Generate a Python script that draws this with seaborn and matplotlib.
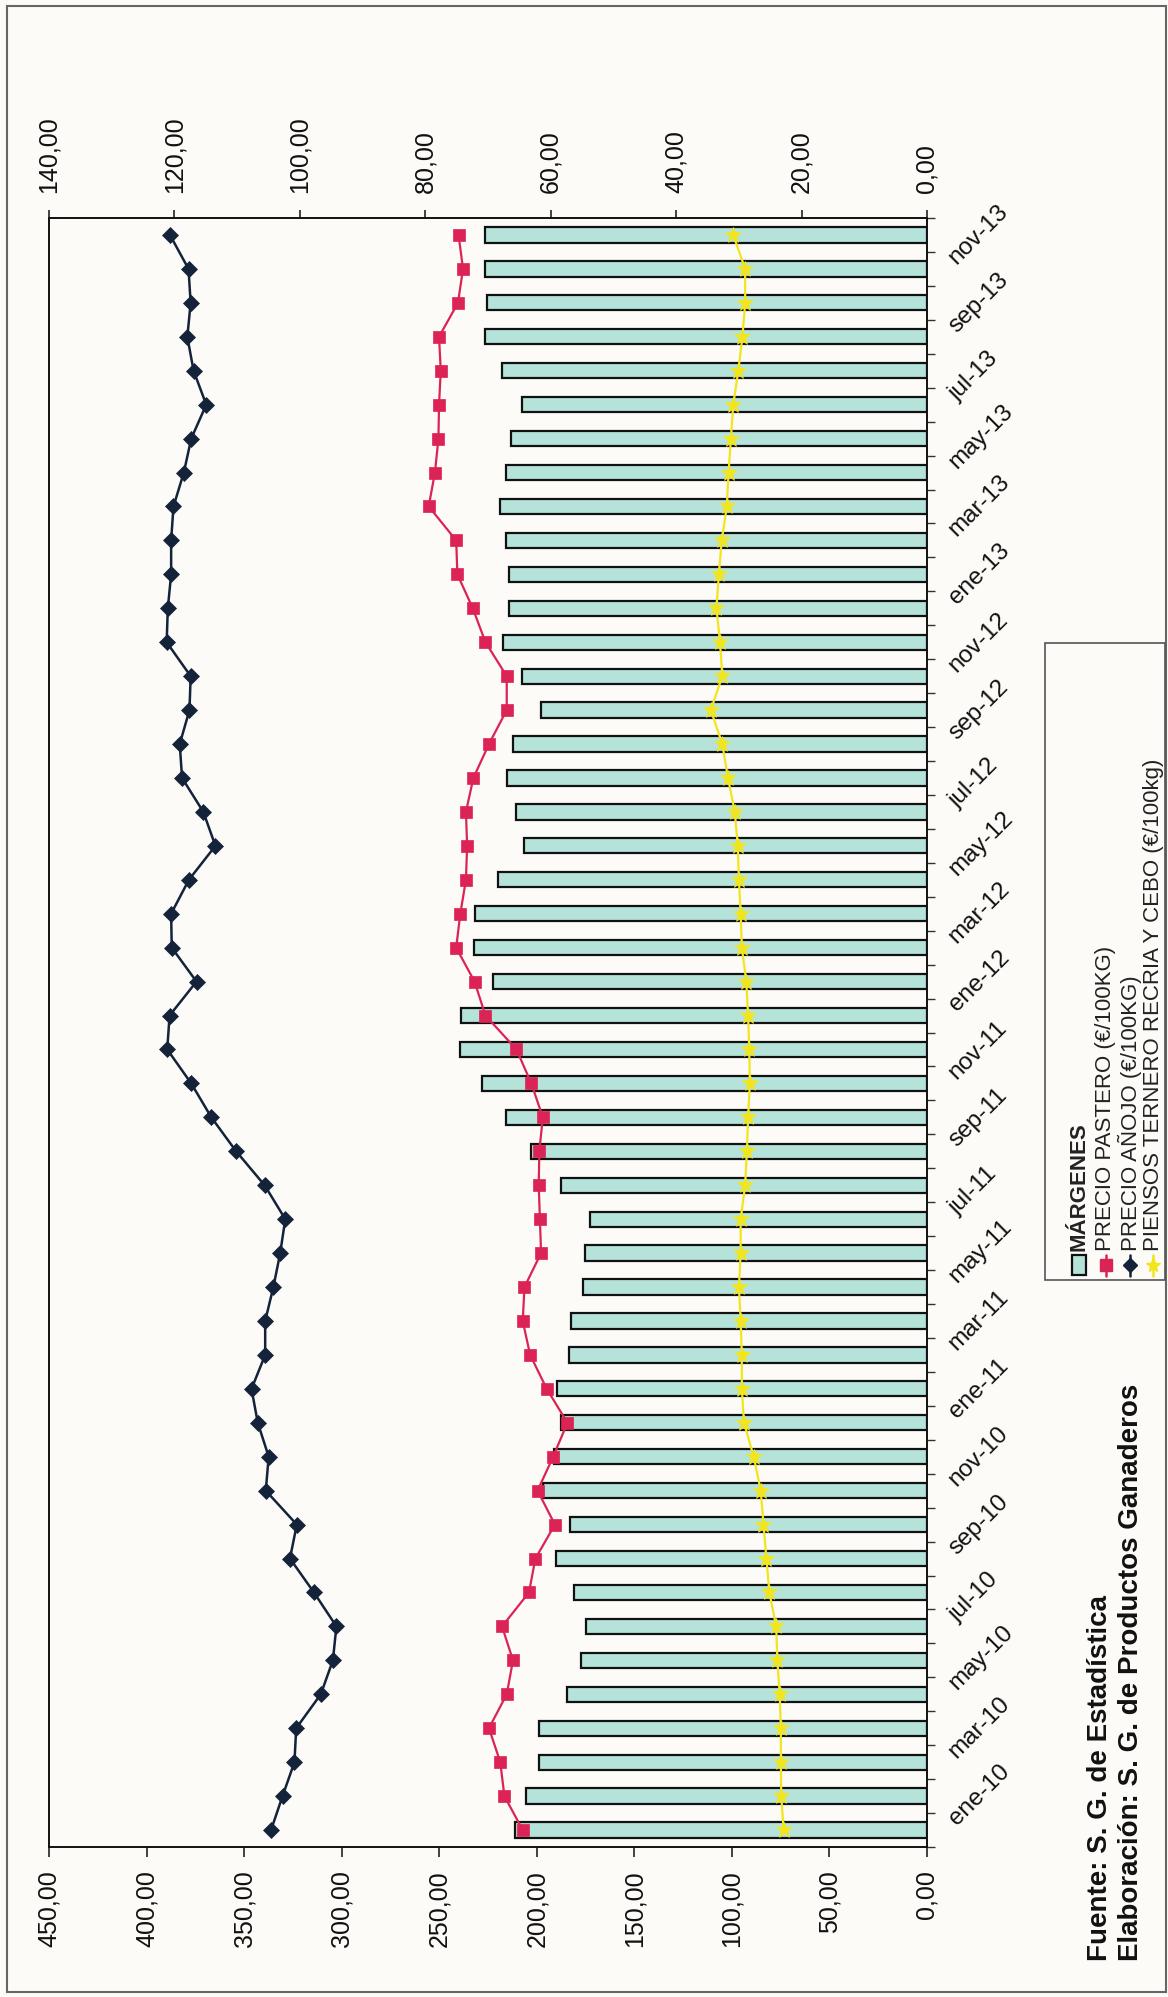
import numpy as np
import pandas as pd
import seaborn as sns
import matplotlib
matplotlib.use("Agg")
import matplotlib.pyplot as plt
from matplotlib.patches import Rectangle
from matplotlib.lines import Line2D
from matplotlib.ticker import FixedLocator

# meses ene-10 .. dic-13 (de abajo a arriba en la figura girada)
month_abbr = ["ene", "feb", "mar", "abr", "may", "jun",
              "jul", "ago", "sep", "oct", "nov", "dic"]
meses = [f"{m}-{y}" for y in ("10", "11", "12", "13") for m in month_abbr]

margen = [65.7, 64.0, 61.9, 61.9, 57.4, 55.1, 54.3, 56.3, 59.2, 57.0, 61.3, 59.4,
          58.4, 59.0, 57.1, 56.8, 54.8, 54.6, 53.7, 58.3, 63.1, 67.2, 70.9, 74.5,
          74.3, 69.2, 72.2, 72.0, 68.4, 64.2, 65.6, 67.0, 66.0, 61.5, 64.5, 67.6,
          66.7, 66.7, 67.2, 68.1, 67.2, 66.3, 64.6, 67.8, 70.4, 70.1, 70.4, 70.4]
pastero = [207.2, 216.6, 218.7, 224.5, 215.4, 212.2, 217.8, 204.0, 200.7, 190.7, 199.6, 191.6,
           184.3, 194.9, 203.4, 207.2, 206.3, 197.8, 198.4, 199.0, 198.7, 196.9, 202.8, 210.4,
           226.3, 231.9, 241.3, 239.2, 236.3, 235.7, 236.3, 232.5, 224.5, 215.4, 215.4, 226.3,
           232.8, 240.7, 241.3, 255.4, 252.2, 250.4, 250.1, 249.2, 250.1, 240.4, 237.8, 240.1]
anojo = [336.2, 330.3, 324.2, 323.3, 310.7, 304.5, 302.7, 314.2, 326.5, 323.0, 338.9, 337.4,
         343.0, 346.2, 339.2, 339.2, 335.0, 331.5, 328.9, 339.5, 354.1, 366.8, 377.1, 389.4,
         388.2, 374.4, 387.1, 387.4, 378.3, 364.7, 370.9, 381.8, 383.0, 378.0, 377.4, 389.7,
         389.1, 387.4, 387.4, 386.2, 380.9, 377.1, 369.4, 375.9, 379.1, 377.4, 378.5, 388.0]
piensos = [73.5, 74.7, 74.9, 74.9, 75.5, 76.7, 77.3, 80.8, 82.3, 83.8, 85.2, 88.8,
           93.8, 94.9, 94.9, 95.5, 96.4, 95.5, 95.5, 93.2, 92.3, 91.7, 90.8, 91.1,
           91.7, 92.6, 94.9, 95.5, 96.4, 97.0, 98.5, 102.0, 104.9, 110.8, 104.9, 106.1,
           107.9, 106.7, 105.2, 102.6, 101.7, 100.5, 99.3, 96.7, 94.6, 93.2, 93.2, 99.3]

ticks_precio = np.arange(0, 451, 50)
ticks_margen = np.arange(0, 141, 20)

leyenda = ["MÁRGENES", "PRECIO PASTERO (€/100KG)", "PRECIO AÑOJO (€/100KG)",
           "PIENSOS TERNERO RECRIA Y CEBO (€/100kg)"]
fuente = "Fuente: S. G. de Estadística"
elaboracion = "Elaboración: S. G. de Productos Ganaderos"

BG = "#fcfbf7"
TEAL = "#b5e3d9"
C_PASTERO = "#dc2355"
C_ANOJO = "#14233a"
C_PIENSOS = "#f3e51c"

W, H = 1168, 1997


def px(x, y):
    return x / W, 1 - y / H


def fmt(v):
    return f"{v:.2f}".replace(".", ",")


df = pd.DataFrame({"pos": np.arange(len(meses)), "mes": meses, "margen": margen,
                   "pastero": pastero, "anojo": anojo, "piensos": piensos})

sns.set_theme(style="ticks")
plt.rcParams["font.family"] = ["Liberation Sans", "DejaVu Sans"]

fig = plt.figure(figsize=(W / 100, H / 100), dpi=100, facecolor=BG)
ax = fig.add_axes([49 / W, 1 - 1847 / H, (927 - 49) / W, (1847 - 218) / H])
ax.set_facecolor(BG)
ax2 = ax.twiny()

# barras (eje superior 0-140)
sns.barplot(data=df, x="margen", y="pos", orient="h", native_scale=True, ax=ax2,
            color=TEAL, edgecolor="#111111", linewidth=1.6, width=0.45,
            saturation=1, errorbar=None, legend=False)

# lineas (eje inferior 0-450)
sns.lineplot(data=df, x="pastero", y="pos", orient="y", sort=False, estimator=None,
             ax=ax, color=C_PASTERO, lw=1.6, marker="s", markersize=9,
             markeredgecolor=C_PASTERO, markeredgewidth=0.5)
sns.lineplot(data=df, x="anojo", y="pos", orient="y", sort=False, estimator=None,
             ax=ax, color=C_ANOJO, lw=1.8, marker="D", markersize=8,
             markeredgecolor=C_ANOJO, markeredgewidth=0.5)
sns.lineplot(data=df, x="piensos", y="pos", orient="y", sort=False, estimator=None,
             ax=ax, color=C_PIENSOS, lw=1.6, marker="*", markersize=12,
             markeredgecolor=C_PIENSOS, markeredgewidth=0.5)

ax.set_zorder(2)
ax2.set_zorder(1)
ax.patch.set_visible(False)
ax2.patch.set_visible(True)
ax2.set_facecolor(BG)

ax.set_xlim(450, 0)
ax2.set_xlim(140, 0)
ax.set_ylim(-0.5, len(meses) - 0.5)
for a in (ax, ax2):
    a.set_xlabel("")
    a.set_ylabel("")
    for s in a.spines.values():
        s.set_color("#111111")
        s.set_linewidth(1.2)

ax.set_xticks(ticks_precio)
ax.set_xticklabels([fmt(v) for v in ticks_precio], rotation=90, ha="center", va="top")
ax.tick_params(axis="x", direction="out", length=7, width=1.1, pad=10,
               labelsize=18, bottom=True, top=False, colors="#111111")

ax2.set_xticks(ticks_margen)
ax2.set_xticklabels([fmt(v) for v in ticks_margen], rotation=90, ha="center", va="bottom")
ax2.tick_params(axis="x", direction="out", length=6, width=1.1, pad=12,
                labelsize=18, top=True, bottom=False, colors="#111111")

ax.yaxis.tick_right()
ax.set_yticks(df["pos"][::2])
ax.set_yticklabels(df["mes"][::2], rotation=45, ha="left", va="bottom",
                   rotation_mode="anchor", fontsize=17.5)
ax.tick_params(axis="y", which="major", length=0, pad=24, right=True, left=False,
               labelright=True, labelleft=False, colors="#111111")
ax.yaxis.set_minor_locator(FixedLocator(np.arange(-0.5, len(meses), 1)))
ax.tick_params(axis="y", which="minor", length=6, width=1, direction="out",
               right=True, left=False, color="#333333")

# marco exterior
fig.add_artist(Rectangle(px(7, 1992), (1166 - 7) / W, (1992 - 6) / H,
                         transform=fig.transFigure, fill=False,
                         edgecolor="#666666", lw=1.5))

# leyenda girada
fig.add_artist(Rectangle(px(1045, 1280), (1165 - 1045) / W, (1280 - 643) / H,
                         transform=fig.transFigure, facecolor=BG,
                         edgecolor="#555555", lw=1.2))
cols = [1079, 1106, 1130, 1153]
fig.add_artist(Rectangle(px(cols[0] - 7, 1275), 14 / W, 20 / H,
                         transform=fig.transFigure, facecolor=TEAL,
                         edgecolor="#111111", lw=1.6))
estilos = [(C_PASTERO, "s", 8), (C_ANOJO, "D", 7), (C_PIENSOS, "*", 11)]
for xc, (c, mk, ms) in zip(cols[1:], estilos):
    x0, y0 = px(xc, 1276)
    _, y1 = px(xc, 1255)
    fig.add_artist(Line2D([x0, x0], [y0, y1], transform=fig.transFigure,
                          color=c, lw=1.8))
    fig.add_artist(Line2D([x0], [px(xc, 1265)[1]], transform=fig.transFigure,
                          color=c, marker=mk, markersize=ms, lw=0))
for i, (xc, txt) in enumerate(zip(cols, leyenda)):
    fig.text(*px(xc, 1251), txt, rotation=90, ha="center", va="bottom",
             fontsize=16, color="#222222",
             fontweight="bold" if i == 0 else "normal")

fig.text(*px(1100, 1961), fuente, rotation=90, ha="center", va="bottom",
         fontsize=20, fontweight="bold", color="#111111")
fig.text(*px(1131, 1961), elaboracion, rotation=90, ha="center", va="bottom",
         fontsize=20, fontweight="bold", color="#111111")

fig.savefig("out.png", dpi=100, facecolor=BG)
